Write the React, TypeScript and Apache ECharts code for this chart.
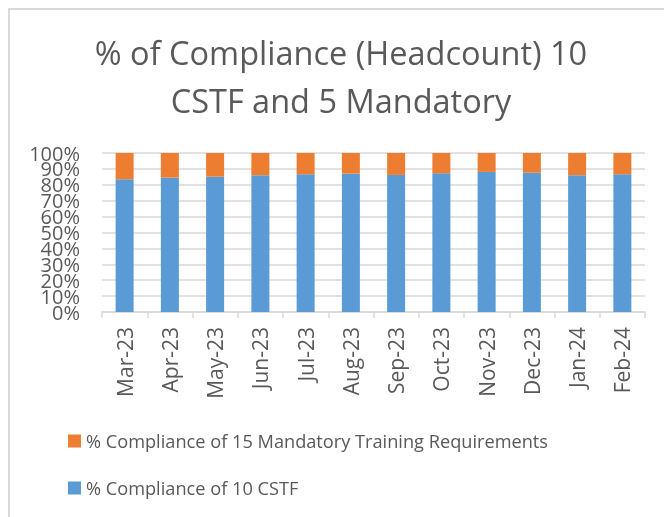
import React, { useEffect, useRef } from "react";
import * as echarts from "echarts";

const months = ["Mar-23", "Apr-23", "May-23", "Jun-23", "Jul-23", "Aug-23", "Sep-23", "Oct-23", "Nov-23", "Dec-23", "Jan-24", "Feb-24"];
const cstfShare = [83.5, 84.5, 85.1, 86.0, 86.6, 87.0, 86.2, 87.2, 88.1, 87.6, 86.0, 86.6];
const mandatoryShare = [16.5, 15.5, 14.9, 14.0, 13.4, 13.0, 13.8, 12.8, 11.9, 12.4, 14.0, 13.4];
const seriesNames = ["% Compliance of 15 Mandatory Training Requirements", "% Compliance of 10 CSTF"];
const titleText = "% of Compliance (Headcount) 10\nCSTF and 5 Mandatory";

export default function App() {
  const ref = useRef<HTMLDivElement>(null);
  useEffect(() => {
    if (!ref.current) return;
    const chart = echarts.init(ref.current, null, { renderer: "svg" });
    const font = "'Open Sans', sans-serif";
    const yLabel = {
      formatter: "{value}%",
      fontSize: 20,
      lineHeight: 14,
      color: "#595959",
      margin: 22,
      fontFamily: font,
      hideOverlap: false,
    };
    chart.setOption({
      animation: false,
      textStyle: { fontFamily: font },
      title: {
        text: titleText,
        left: 328,
        textAlign: "center",
        top: 15,
        textStyle: { fontSize: 32.5, lineHeight: 48, fontWeight: "normal", color: "#595959", fontFamily: font },
      },
      graphic: [
        { type: "line", shape: { x1: 0, y1: 1, x2: 660, y2: 1 }, style: { stroke: "#d9d9d9", lineWidth: 2 } },
        { type: "line", shape: { x1: 1, y1: 0, x2: 1, y2: 520 }, style: { stroke: "#d9d9d9", lineWidth: 2 } },
      ],
      legend: {
        orient: "vertical",
        left: 55,
        top: 416,
        itemWidth: 13,
        itemHeight: 13,
        itemGap: 23,
        icon: "rect",
        data: seriesNames,
        textStyle: { fontSize: 18.2, lineHeight: 24, color: "#595959", fontFamily: font },
      },
      grid: { left: 94, right: 19, top: 145, bottom: 205, containLabel: false },
      xAxis: {
        type: "category",
        data: months,
        axisLine: { lineStyle: { color: "#d9d9d9", width: 1.5 } },
        axisTick: { show: true, length: 6, lineStyle: { color: "#d9d9d9", width: 1.5 } },
        axisLabel: { rotate: 90, margin: 15, fontSize: 21, color: "#595959", fontFamily: font },
      },
      yAxis: [
        {
          type: "value",
          position: "left",
          min: 0,
          max: 100,
          interval: 10,
          axisLine: { show: false },
          axisTick: { show: false },
          splitLine: { lineStyle: { color: "#d9d9d9", width: 1.5 } },
          axisLabel: { ...yLabel, showMinLabel: false, showMaxLabel: false },
        },
        {
          type: "value",
          position: "left",
          offset: 0,
          min: 0,
          max: 100,
          interval: 100,
          axisLine: { show: false },
          axisTick: { show: false },
          splitLine: { show: false },
          axisLabel: { ...yLabel, showMinLabel: true, showMaxLabel: true },
        },
      ],
      series: [
        {
          name: seriesNames[1],
          type: "bar",
          stack: "total",
          barWidth: 18,
          data: cstfShare,
          itemStyle: { color: "#5B9BD5" },
        },
        {
          name: seriesNames[0],
          type: "bar",
          stack: "total",
          barWidth: 18,
          data: mandatoryShare,
          itemStyle: { color: "#ED7D31" },
        },
      ],
    });
    return () => chart.dispose();
  }, []);
  return (
    <div style={{ position: "fixed", left: 8, top: 8, width: 656, height: 509 }}>
      <div ref={ref} style={{ width: 656, height: 509 }} />
    </div>
  );
}
